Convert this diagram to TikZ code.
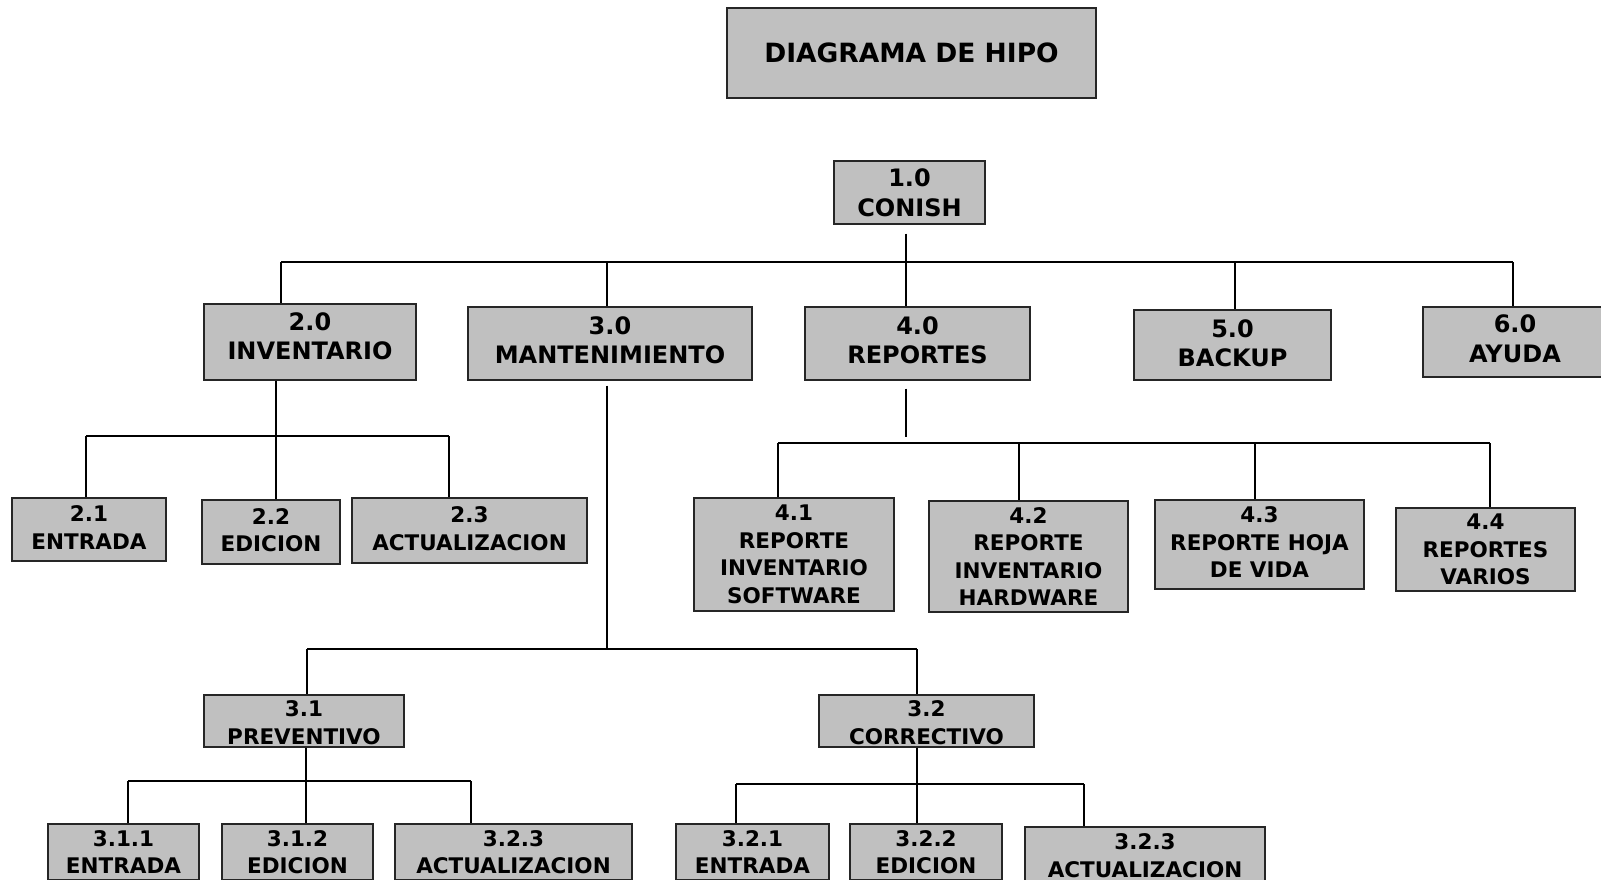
\documentclass[tikz,border=0pt]{standalone}
\usepackage{fontspec}
\setmainfont{DejaVu Sans}

\definecolor{boxgray}{RGB}{192,192,192}
\tikzset{
    box/.style={draw=black!85, fill=boxgray, line width=1.3pt, align=center,
        inner sep=0pt, font=\bfseries\fontsize{21.5}{27.5}\selectfont},
    bigbox/.style={box, text depth=7pt, font=\bfseries\fontsize{24}{29.5}\selectfont},
    link/.style={line width=1.5pt}
}

\begin{document}
\begin{tikzpicture}[x=1pt,y=-1pt]
\useasboundingbox (0,0) rectangle (1601,879);
\clip (0,0) rectangle (1601,879);

\node[box, font=\bfseries\fontsize{26.5}{32}\selectfont, minimum width=369pt, minimum height=90pt] (title) at (911.5,53) {DIAGRAMA DE HIPO};

% first and second level
\node[bigbox, text depth=0pt, minimum width=151pt, minimum height=63pt] (n10) at (909.5,192.5) {1.0\\CONISH};
\node[bigbox, text depth=12pt, minimum width=212pt, minimum height=76pt] (n20) at (310,342) {2.0\\INVENTARIO};
\node[bigbox, minimum width=284pt, minimum height=73pt] (n30) at (610,343.5) {3.0\\MANTENIMIENTO};
\node[bigbox, minimum width=225pt, minimum height=73pt] (n40) at (917.5,343.5) {4.0\\REPORTES};
\node[bigbox, text depth=4pt, minimum width=197pt, minimum height=70pt] (n50) at (1232.5,345) {5.0\\BACKUP};
\node[bigbox, minimum width=184pt, minimum height=70pt] (n60) at (1515,342) {6.0\\AYUDA};

\coordinate (t20) at (281,262);
\coordinate (t30) at (607,262);
\coordinate (t40) at (906,262);
\coordinate (t50) at (1235,262);
\coordinate (t60) at (1513,262);
\draw[link] (t20) -- (t60);
\draw[link] (t40 |- n10.south) ++(0,9) -- (t40 |- n40.north);
\foreach \n in {20,30,50,60}
    \draw[link] (t\n) -- (t\n |- n\n.north);

% inventario
\node[box, text depth=4pt, minimum width=154pt, minimum height=63pt] (n21) at (89,529.5) {2.1\\ENTRADA};
\node[box, text depth=4pt, minimum width=138pt, minimum height=64pt] (n22) at (271,532) {2.2\\EDICION};
\node[box, text depth=4pt, minimum width=235pt, minimum height=65pt] (n23) at (469.5,530.5) {2.3\\ACTUALIZACION};

\coordinate (i21) at (86,436);
\coordinate (i22) at (276,436);
\coordinate (i23) at (449,436);
\draw[link] (i21) -- (i23);
\draw[link] (i22 |- n20.south) -- (i22 |- n22.north);
\foreach \n in {21,23}
    \draw[link] (i\n) -- (i\n |- n\n.north);

% reportes
\node[box, minimum width=200pt, minimum height=113pt] (n41) at (794,554.5) {4.1\\REPORTE\\INVENTARIO\\SOFTWARE};
\node[box, minimum width=199pt, minimum height=111pt] (n42) at (1028.5,556.5) {4.2\\REPORTE\\INVENTARIO\\HARDWARE};
\node[box, text depth=4pt, minimum width=209pt, minimum height=89pt] (n43) at (1259.5,544.5) {4.3\\REPORTE HOJA\\DE VIDA};
\node[box, minimum width=179pt, minimum height=83pt] (n44) at (1485.5,549.5) {4.4\\REPORTES\\VARIOS};

\coordinate (r40) at (906,437);
\coordinate (r41) at (778,443);
\coordinate (r42) at (1019,443);
\coordinate (r43) at (1255,443);
\coordinate (r44) at (1490,443);
\draw[link] (r41) -- (r44);
\draw[link] (r40 |- n40.south) ++(0,8) -- (r40);
\foreach \n in {41,42,43,44}
    \draw[link] (r\n) -- (r\n |- n\n.north);

% mantenimiento
\node[box, minimum width=200pt, minimum height=52pt] (n31) at (304,721) {\strut 3.1\\PREVENTIVO};
\node[box, minimum width=215pt, minimum height=52pt] (n32) at (926.5,721) {\strut 3.2\\CORRECTIVO};

\coordinate (m30) at (607,649);
\coordinate (m31) at (307,649);
\coordinate (m32) at (917,649);
\draw[link] (m31) -- (m32);
\draw[link] (m30 |- n30.south) ++(0,5) -- (m30);
\foreach \n in {31,32}
    \draw[link] (m\n) -- (m\n |- n\n.north);

\node[box, minimum width=151pt, minimum height=56pt] (n311) at (123.5,852) {3.1.1\\ENTRADA};
\node[box, minimum width=151pt, minimum height=56pt] (n312) at (297.5,852) {3.1.2\\EDICION};
\node[box, minimum width=237pt, minimum height=56pt] (n313) at (513.5,852) {3.2.3\\ACTUALIZACION};

\coordinate (p311) at (128,781);
\coordinate (p312) at (306,781);
\coordinate (p313) at (471,781);
\draw[link] (p311) -- (p313);
\draw[link] (p312 |- n31.south) -- (p312 |- n312.north);
\foreach \n in {311,313}
    \draw[link] (p\n) -- (p\n |- n\n.north);

\node[box, minimum width=153pt, minimum height=56pt] (n321) at (752.5,852) {3.2.1\\ENTRADA};
\node[box, minimum width=152pt, minimum height=56pt] (n322) at (926,852) {3.2.2\\EDICION};
\node[box, minimum width=240pt, minimum height=57pt] (n323) at (1145,855.5) {3.2.3\\ACTUALIZACION};

\coordinate (c321) at (736,784);
\coordinate (c322) at (917,784);
\coordinate (c323) at (1084,784);
\draw[link] (c321) -- (c323);
\draw[link] (c322 |- n32.south) -- (c322 |- n322.north);
\foreach \n in {321,323}
    \draw[link] (c\n) -- (c\n |- n\n.north);

\end{tikzpicture}
\end{document}
